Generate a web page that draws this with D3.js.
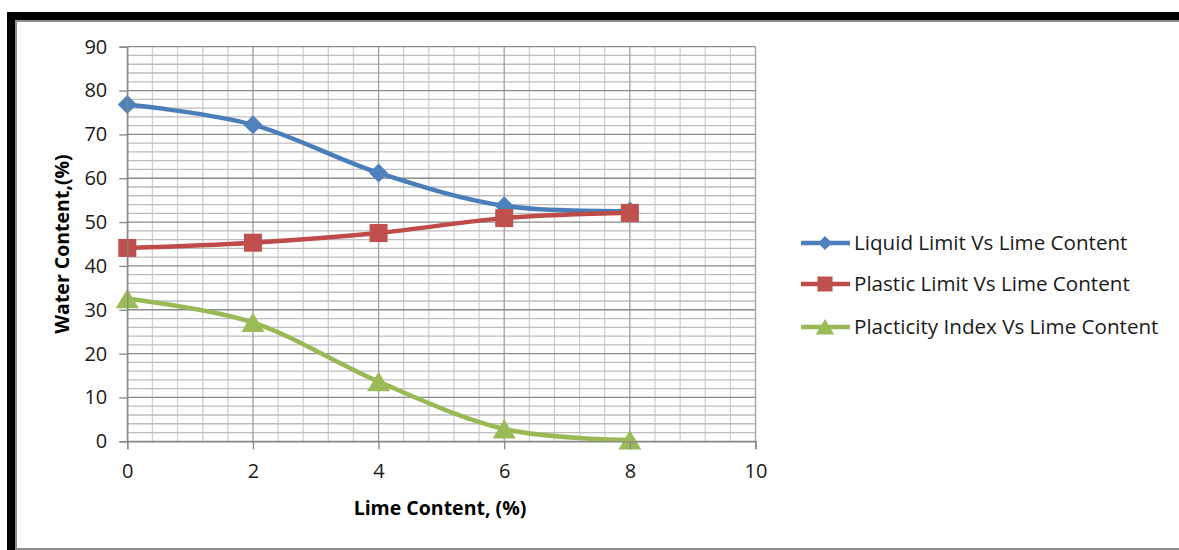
<!DOCTYPE html>
<html>
<head>
<meta charset="utf-8">
<script src="https://cdn.jsdelivr.net/npm/d3@7"></script>
<style>
html,body{margin:0;padding:0;background:#fff;}
svg{display:block;}
text{font-family:"Open Sans",sans-serif;}
</style>
</head>
<body>
<svg id="chart" width="1179" height="550"></svg>
<script>
const limeContent = [0, 2, 4, 6, 8];
const liquidLimit = [76.8, 72.2, 61.2, 53.7, 52.5];
const plasticLimit = [44.1, 45.3, 47.5, 50.9, 52.1];
const plasticityIndex = [32.5, 27.1, 13.6, 2.8, 0.3];
const seriesNames = ["Liquid Limit Vs Lime Content", "Plastic Limit Vs Lime Content", "Placticity Index Vs Lime Content"];
const xTicks = [0, 2, 4, 6, 8, 10];
const yTicks = [0, 10, 20, 30, 40, 50, 60, 70, 80, 90];
const xTitle = "Lime Content, (%)";
const yTitle = "Water Content,(%)";

const svg = d3.select("#chart");

// frame
svg.append("rect").attr("x", 7).attr("y", 12).attr("width", 1172).attr("height", 8).attr("fill", "#000");
svg.append("rect").attr("x", 7).attr("y", 12).attr("width", 8).attr("height", 538).attr("fill", "#000");
svg.append("rect").attr("x", 15).attr("y", 20).attr("width", 1164).attr("height", 2).attr("fill", "#8c8c8c");
svg.append("rect").attr("x", 15).attr("y", 20).attr("width", 2).attr("height", 530).attr("fill", "#8c8c8c");
svg.append("rect").attr("x", 15).attr("y", 548).attr("width", 1164).attr("height", 2).attr("fill", "#8c8c8c");

const x = d3.scaleLinear().domain([0, 10]).range([127.3, 755.5]);
const y = d3.scaleLinear().domain([0, 90]).range([441.3, 46.7]);

const g = svg.append("g");

// minor grid
const xMinor = d3.range(0, 10.001, 0.4).filter(v => Math.abs(v / 2 - Math.round(v / 2)) > 1e-6);
const yMinor = d3.range(0, 90.001, 2).filter(v => v % 10 !== 0);
g.selectAll(".vminor").data(xMinor).join("line")
  .attr("x1", d => x(d)).attr("x2", d => x(d)).attr("y1", y(90)).attr("y2", y(0))
  .attr("stroke", "#d0d0d0").attr("stroke-width", 1.3);
g.selectAll(".hminor").data(yMinor).join("line")
  .attr("x1", x(0)).attr("x2", x(10)).attr("y1", d => y(d)).attr("y2", d => y(d))
  .attr("stroke", "#bdbdbd").attr("stroke-width", 1.3);
// major grid
g.selectAll(".vmajor").data(xTicks).join("line")
  .attr("x1", d => x(d)).attr("x2", d => x(d)).attr("y1", y(90)).attr("y2", y(0))
  .attr("stroke", "#a0a0a0").attr("stroke-width", 1.3);
g.selectAll(".hmajor").data(yTicks).join("line")
  .attr("x1", x(0)).attr("x2", x(10)).attr("y1", d => y(d)).attr("y2", d => y(d))
  .attr("stroke", "#8a8a8a").attr("stroke-width", 1.3);

// axes
const yAxis = d3.axisLeft(y).tickValues(yTicks).tickSize(8).tickPadding(12).tickFormat(d3.format("d"));
const xAxis = d3.axisBottom(x).tickValues(xTicks).tickSize(8).tickPadding(15).tickFormat(d3.format("d"));
const ya = svg.append("g").attr("transform", `translate(${x(0)},0)`).call(yAxis);
const xa = svg.append("g").attr("transform", `translate(0,${y(0)})`).call(xAxis);
[ya, xa].forEach(a => {
  a.select(".domain").attr("stroke", "#868686").attr("stroke-width", 1.3);
  a.selectAll(".tick line").attr("stroke", "#868686").attr("stroke-width", 1.3);
  a.selectAll(".tick text").attr("fill", "#1a1a1a").style("font-size", "20px").style("font-family", "'Open Sans',sans-serif");
});

// titles
svg.append("text").attr("x", 440).attr("y", 515).attr("text-anchor", "middle")
  .style("font-size", "19.5px").style("font-weight", "bold").attr("fill", "#000").text(xTitle);
svg.append("text").attr("transform", "translate(69,244) rotate(-90)").attr("text-anchor", "middle")
  .style("font-size", "19.5px").style("font-weight", "bold").attr("fill", "#000").text(yTitle);

// series
const series = [
  {name: seriesNames[0], values: liquidLimit, line: "#4a7ebb", fill: "#4f81bd", shape: "diamond"},
  {name: seriesNames[1], values: plasticLimit, line: "#be4b48", fill: "#c0504d", shape: "square"},
  {name: seriesNames[2], values: plasticityIndex, line: "#98b954", fill: "#9bbb59", shape: "triangle"}
];

function markerPath(shape, s) {
  if (shape === "diamond") return `M0,${-s}L${s},0L0,${s}L${-s},0Z`;
  if (shape === "square") return `M${-s},${-s}H${s}V${s}H${-s}Z`;
  return `M0,${-s}L${s * 1.15},${s * 0.95}L${-s * 1.15},${s * 0.95}Z`;
}
const markerSize = {diamond: 9.5, square: 9, triangle: 10};

const line = d3.line().x(d => x(d[0])).y(d => y(d[1])).curve(d3.curveCardinal.tension(0));

series.forEach(s => {
  const pts = limeContent.map((c, i) => [c, s.values[i]]);
  g.append("path").datum(pts).attr("d", line).attr("fill", "none")
    .attr("stroke", s.line).attr("stroke-width", 4.5).attr("stroke-linejoin", "round");
  g.selectAll(null).data(pts).join("path")
    .attr("transform", d => `translate(${x(d[0])},${y(d[1])})`)
    .attr("d", markerPath(s.shape, markerSize[s.shape])).attr("fill", s.fill);
});

// legend
const legY = [243, 284, 327];
const legMarker = {diamond: 7, square: 7.5, triangle: 8};
series.forEach((s, i) => {
  const lg = svg.append("g").attr("transform", `translate(0,${legY[i]})`);
  lg.append("line").attr("x1", 801).attr("x2", 850).attr("y1", 0).attr("y2", 0)
    .attr("stroke", s.line).attr("stroke-width", 4.5);
  lg.append("path").attr("transform", "translate(825,0)").attr("d", markerPath(s.shape, legMarker[s.shape])).attr("fill", s.fill);
  lg.append("text").attr("x", 854).attr("y", 0).attr("dy", "0.35em")
    .style("font-size", "20.6px").attr("fill", "#1a1a1a").text(s.name);
});
</script>
</body>
</html>
